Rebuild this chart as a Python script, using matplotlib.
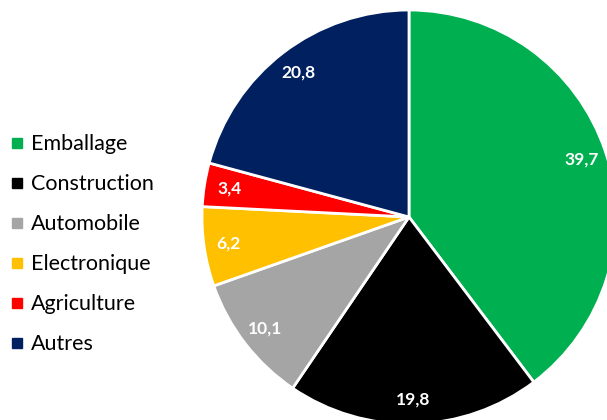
import matplotlib.pyplot as plt
from matplotlib.lines import Line2D

plt.rcParams['font.family'] = ['Lato', 'DejaVu Sans']

categories = ["Emballage", "Construction", "Automobile", "Electronique", "Agriculture", "Autres"]
values = [39.7, 19.8, 10.1, 6.2, 3.4, 20.8]
labels = ["39,7", "19,8", "10,1", "6,2", "3,4", "20,8"]
colors = ["#00B050", "#000000", "#A5A5A5", "#FFC000", "#FF0000", "#002060"]

fig = plt.figure(figsize=(6.07, 4.20), dpi=100)
ax = fig.add_axes([202 / 607, -4 / 420, 414 / 607, 414 / 420])

wedges, texts = ax.pie(values, colors=colors, startangle=90, counterclock=False,
                       radius=1, labels=labels, labeldistance=0.88,
                       wedgeprops=dict(edgecolor="white", linewidth=2))
for t in texts:
    t.set_color("white")
    t.set_fontweight("bold")
    t.set_fontsize(12.5)
    t.set_ha("center")
    t.set_va("center")
ax.set_xlim(-1, 1)
ax.set_ylim(-1, 1)
ax.set_aspect("equal")
ax.axis("off")

handles = [Line2D([], [], marker="s", linestyle="", markersize=7.5,
                  markerfacecolor=c, markeredgecolor=c) for c in colors]
fig.legend(handles, categories, loc="upper left", bbox_to_anchor=(8 / 607, 1 - 132 / 420),
           frameon=False, fontsize=15.5, labelspacing=0.93, handlelength=0.6,
           handletextpad=0.35, borderaxespad=0, borderpad=0.1)

fig.savefig("out.png", dpi=100)
